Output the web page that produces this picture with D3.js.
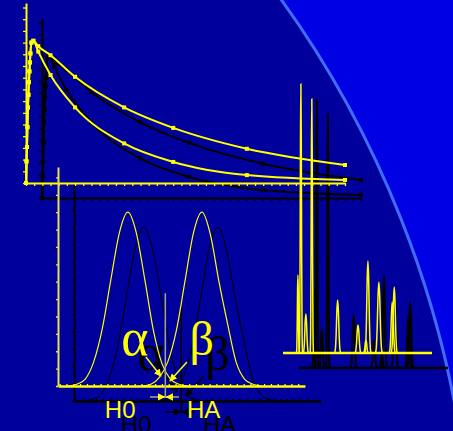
<!DOCTYPE html>
<html>
<head>
<meta charset="utf-8">
<script src="https://cdn.jsdelivr.net/npm/d3@7"></script>
<style>
  html, body { margin: 0; padding: 0; background: #00009c; }
  svg { display: block; }
</style>
</head>
<body>
<div id="chart"></div>
<script>
// --- concentration / time curves (h, % of max)
const pkTimes = [0, 0.02, 0.04, 0.06, 0.08, 0.1, 0.12, 0.14, 0.16, 0.18, 0.22, 0.3, 0.5, 1, 2, 4, 6, 9, 13];
const pkSlow  = [0, 12, 20, 31, 42, 49, 56, 62, 67, 72, 78, 79, 76, 71, 59, 42, 30.6, 19, 10];
const pkFast  = [0, 12, 20, 31, 42, 49, 56, 62, 67, 72, 78, 79, 73, 60, 42, 22, 11.7, 4.4, 1.7];

// --- H0 / HA distributions (z offset from mean, relative density)
const zGrid  = [-3.5, -3, -2.5, -2, -1.5, -1, -0.5, 0, 0.5, 1, 1.5, 2, 2.5, 3, 3.5];
const densH0 = [0, 0.01, 0.04, 0.14, 0.33, 0.61, 0.88, 1, 0.88, 0.61, 0.32, 0.13, 0.04, 0.01, 0];
const densHA = [0, 0.01, 0.05, 0.14, 0.32, 0.6, 0.88, 1, 0.87, 0.6, 0.36, 0.14, 0.04, 0.01, 0];
const meanH0 = 0, meanHA = 4.35, critZ = 2.2;

// --- chromatogram (min, % of tallest peak)
const peakTimes   = [1.5, 1.8, 2.3, 2.9, 5.5, 7.55, 8.35, 8.55, 9.65, 11.0, 11.2];
const peakHeights = [29, 100, 14.5, 94.4, 19.7, 10.4, 4.8, 34.2, 26.4, 19, 24.5];
const peakWidths  = [0.07, 0.08, 0.13, 0.08, 0.15, 0.15, 0.12, 0.15, 0.17, 0.15, 0.15];
const shapeOffsets = [-2, -1.5, -1, -0.5, 0, 0.5, 1, 1.5, 2];
const shapeLevels  = [0, 0.08, 0.35, 0.8, 1, 0.8, 0.35, 0.08, 0];

const W = 453, H = 431;
const shadow = { dx: 16, dy: 15 };

const svg = d3.select('#chart').append('svg')
  .attr('width', W)
  .attr('height', H);

// background: light corner cut by a big arc
svg.append('rect').attr('width', W).attr('height', H).attr('fill', '#0000e4');
svg.append('circle')
  .attr('cx', -539).attr('cy', 591).attr('r', 1011)
  .attr('fill', '#00009c')
  .attr('stroke', '#3f6cff')
  .attr('stroke-width', 3);

const defs = svg.append('defs');
function arrowMarker(id, color) {
  defs.append('marker')
    .attr('id', id)
    .attr('viewBox', '0 0 10 10')
    .attr('refX', 9).attr('refY', 5)
    .attr('markerWidth', 5).attr('markerHeight', 5)
    .attr('orient', 'auto')
  .append('path')
    .attr('d', 'M0,0L10,5L0,10Z')
    .attr('fill', color);
}
arrowMarker('arr-y', '#ffff00');
arrowMarker('arr-k', '#000000');

// scales
const xT = d3.scaleLinear().domain([0, 13]).range([26, 345]);
const yT = d3.scaleLinear().domain([0, 100]).range([183, 3]);
const xD = d3.scaleLinear().domain([-4.1, 10.4]).range([58, 305]);
const yD = d3.scaleLinear().domain([0, 1.26]).range([386, 167]);
const xC = d3.scaleLinear().domain([0, 15]).range([283, 432]);
const yC = d3.scaleLinear().domain([0, 100]).range([353, 84]);

function styleAxis(sel, color, lineW) {
  sel.select('.domain').attr('stroke', color).attr('stroke-width', lineW);
  sel.selectAll('.tick line').attr('stroke', color).attr('stroke-width', 1.3);
}

function drawLayer(g, c) {
  // ---------- top chart
  const top = g.append('g').attr('class', 'pk');
  top.append('g')
    .attr('transform', `translate(0,${yT(0)})`)
    .call(d3.axisBottom(xT).tickValues(d3.range(0, 13.01, 1 / 3)).tickSize(3).tickSizeOuter(0).tickFormat(''))
    .call(styleAxis, c.main, 2);
  top.append('g')
    .attr('transform', `translate(${xT(0)},0)`)
    .call(d3.axisLeft(yT).tickValues(d3.range(0, 100, 6.5)).tickSize(3).tickSizeOuter(0).tickFormat(''))
    .call(styleAxis, c.main, 2);

  const line = d3.line()
    .x((d, i) => xT(pkTimes[i]))
    .y(d => yT(d))
    .curve(d3.curveMonotoneX);

  [pkSlow, pkFast].forEach(series => {
    top.append('path')
      .attr('d', line(series))
      .attr('fill', 'none')
      .attr('stroke', c.main)
      .attr('stroke-width', 2);
    top.selectAll(null).data(series).enter()
      .append('rect')
        .attr('x', (d, i) => xT(pkTimes[i]) - 2)
        .attr('y', d => yT(d) - 2)
        .attr('width', 4).attr('height', 4)
        .attr('fill', c.main);
  });

  // ---------- distributions
  const dist = g.append('g').attr('class', 'dist');
  dist.append('g')
    .attr('transform', `translate(${xD.range()[0]},0)`)
    .call(d3.axisLeft(yD).tickValues(d3.range(0, 1.26, 0.1)).tickSize(2).tickSizeOuter(0).tickFormat(''))
    .call(styleAxis, c.pale, 2);
  dist.append('g')
    .attr('transform', `translate(0,${yD(0)})`)
    .call(d3.axisTop(xD).tickValues(d3.range(-4, 10.4, 0.4)).tickSize(2).tickSizeOuter(0).tickFormat(''))
    .call(styleAxis, c.main, 2.5);

  const densLine = mean => d3.line()
    .x((d, i) => xD(mean + zGrid[i]))
    .y(d => yD(d))
    .curve(d3.curveMonotoneX);
  [[meanH0, densH0], [meanHA, densHA]].forEach(([m, dens]) => {
    dist.append('path')
      .attr('d', densLine(m)(dens))
      .attr('fill', 'none')
      .attr('stroke', c.main)
      .attr('stroke-width', c.distW);
  });

  // critical value marker
  dist.append('line')
    .attr('x1', xD(critZ)).attr('x2', xD(critZ))
    .attr('y1', yD(0.534)).attr('y2', yD(-0.063))
    .attr('stroke', c.grey).attr('stroke-width', 1.5);
  dist.append('line')
    .attr('x1', xD(1.3)).attr('x2', xD(3.0))
    .attr('y1', yD(-0.063)).attr('y2', yD(-0.063))
    .attr('stroke', c.grey).attr('stroke-width', 1.5);
  [[1.76, 2.15], [2.64, 2.25]].forEach(([a, b]) => {
    dist.append('line')
      .attr('x1', xD(a)).attr('x2', xD(b))
      .attr('y1', yD(-0.063)).attr('y2', yD(-0.063))
      .attr('stroke', c.main).attr('stroke-width', 1.5)
      .attr('marker-end', `url(#${c.marker})`);
  });

  // alpha / beta arrows
  [[1.06, 0.167, 1.94, 0.057], [3.47, 0.138, 2.47, 0.029]].forEach(([z1, d1, z2, d2]) => {
    dist.append('line')
      .attr('x1', xD(z1)).attr('y1', yD(d1))
      .attr('x2', xD(z2)).attr('y2', yD(d2))
      .attr('stroke', c.main).attr('stroke-width', 1.5)
      .attr('marker-end', `url(#${c.marker})`);
  });

  dist.append('text')
    .attr('x', xD(-0.38)).attr('y', yD(0.18))
    .attr('font-family', 'Liberation Serif, Times New Roman, serif')
    .attr('font-size', 52)
    .attr('fill', c.main)
    .text('α');
  dist.append('text')
    .attr('x', xD(3.62)).attr('y', yD(0.18))
    .attr('font-family', 'Liberation Serif, Times New Roman, serif')
    .attr('font-size', 48)
    .attr('fill', c.main)
    .text('β');

  dist.append('text')
    .attr('x', xD(-1.35)).attr('y', yD(0) + 32)
    .attr('font-family', 'Liberation Sans, Arial, sans-serif')
    .attr('font-size', 24)
    .attr('fill', c.main)
    .text('H0');
  dist.append('text')
    .attr('x', xD(3.47)).attr('y', yD(0) + 32)
    .attr('font-family', 'Liberation Sans, Arial, sans-serif')
    .attr('font-size', 24)
    .attr('fill', c.main)
    .text('HA');

  // ---------- chromatogram
  const chrom = g.append('g').attr('class', 'chrom');
  const peakLine = d3.line()
    .x(d => xC(d[0]))
    .y(d => yC(d[1]))
    .curve(d3.curveMonotoneX);
  peakTimes.forEach((t, k) => {
    const pts = shapeOffsets.map((o, i) => [t + o * peakWidths[k], shapeLevels[i] * peakHeights[k]]);
    chrom.append('path')
      .attr('d', peakLine(pts))
      .attr('fill', 'none')
      .attr('stroke', c.main)
      .attr('stroke-width', c.peakW);
  });
  chrom.append('line')
    .attr('x1', xC(0)).attr('x2', xC(15))
    .attr('y1', yC(0)).attr('y2', yC(0))
    .attr('stroke', c.main)
    .attr('stroke-width', 2.5);
}

// shadow copy first, then the yellow copy on top
drawLayer(
  svg.append('g').attr('transform', `translate(${shadow.dx},${shadow.dy})`),
  { main: '#000000', pale: '#000000', grey: '#000000', marker: 'arr-k', peakW: 2, distW: 1 }
);
drawLayer(
  svg.append('g'),
  { main: '#ffff00', pale: '#e4e44a', grey: '#a8a880', marker: 'arr-y', peakW: 1.5, distW: 1.2 }
);
</script>
</body>
</html>
